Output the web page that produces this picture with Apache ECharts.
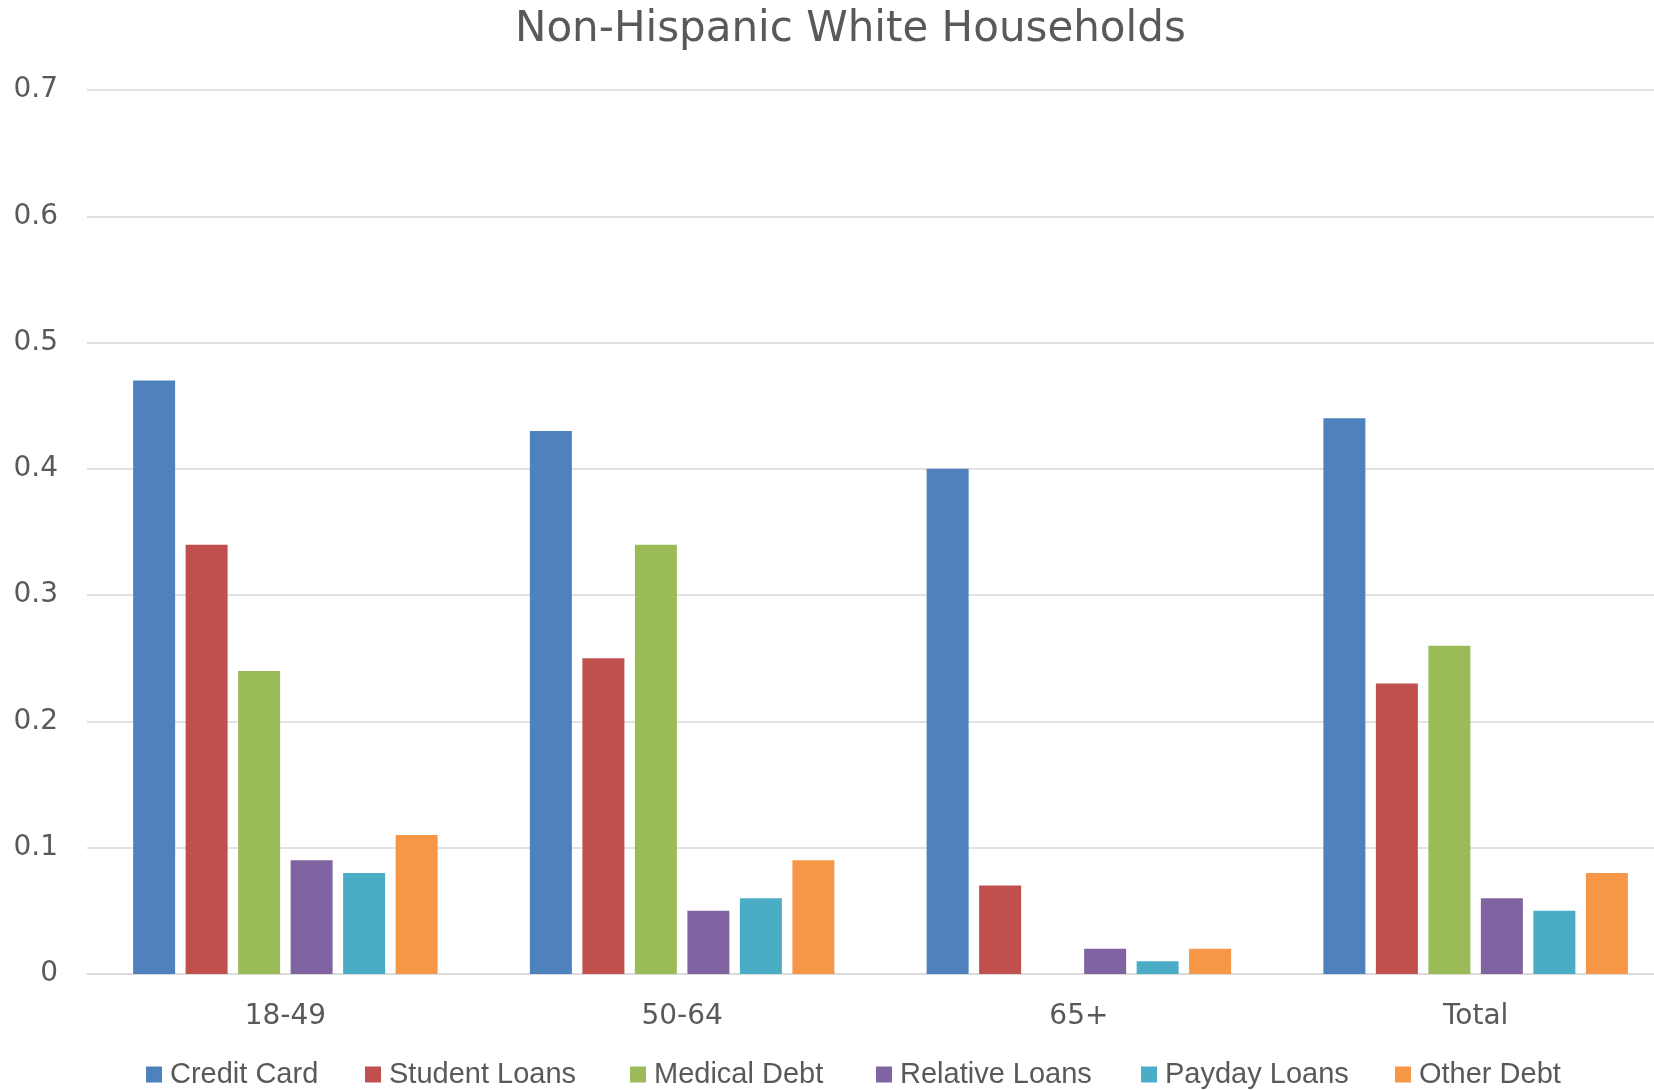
<!DOCTYPE html>
<html>
<head>
<meta charset="utf-8">
<script src="https://cdn.jsdelivr.net/npm/echarts@6/dist/echarts.min.js"></script>
<style>
html,body{margin:0;padding:0;background:#fff;}
#chart{width:1654px;height:1090px;}
</style>
</head>
<body>
<div id="chart"></div>
<script>
const titleText = 'Non-Hispanic White Households';
const categories = ['18-49', '50-64', '65+', 'Total'];
const seriesNames = ['Credit Card', 'Student Loans', 'Medical Debt', 'Relative Loans', 'Payday Loans', 'Other Debt'];
const creditCard = [0.47, 0.43, 0.40, 0.44];
const studentLoans = [0.34, 0.25, 0.07, 0.23];
const medicalDebt = [0.24, 0.34, 0, 0.26];
const relativeLoans = [0.09, 0.05, 0.02, 0.06];
const paydayLoans = [0.08, 0.06, 0.01, 0.05];
const otherDebt = [0.11, 0.09, 0.02, 0.08];
const yTicks = [0, 0.1, 0.2, 0.3, 0.4, 0.5, 0.6, 0.7];

const seriesValues = [creditCard, studentLoans, medicalDebt, relativeLoans, paydayLoans, otherDebt];
const colors = ['#4F81BD', '#C0504D', '#9BBB59', '#8064A2', '#4BACC6', '#F79646'];
const legendLeft = [146, 365, 630, 876, 1141, 1395];
const textColor = '#595959';

const chart = echarts.init(document.getElementById('chart'), null, {renderer: 'canvas'});
const option = {
  animation: false,
  backgroundColor: '#ffffff',
  color: colors,
  title: {
    text: titleText,
    left: 510,
    top: 4,
    textStyle: {fontFamily: 'DejaVu Sans', fontSize: 42, fontWeight: 'normal', color: textColor}
  },
  legend: seriesNames.map((n, i) => ({
    data: [n],
    left: legendLeft[i],
    top: 1060,
    padding: 0,
    itemWidth: 16,
    itemHeight: 16,
    icon: 'rect',
    textStyle: {fontFamily: 'Liberation Sans', fontSize: 29, color: textColor, padding: [0, 0, 0, 3]}
  })),
  grid: {left: 87, width: 1587, top: 90, bottom: 116, containLabel: false, outerBoundsMode: 'none'},
  xAxis: {
    type: 'category',
    data: categories,
    axisTick: {show: false},
    axisLine: {show: true, lineStyle: {color: '#D9D9D9', width: 1.5}},
    axisLabel: {fontFamily: 'DejaVu Sans', fontSize: 28, color: textColor, margin: 29}
  },
  yAxis: {
    type: 'value',
    min: yTicks[0],
    max: yTicks[yTicks.length - 1],
    interval: 0.1,
    axisLine: {show: false},
    axisTick: {show: false},
    splitLine: {lineStyle: {color: '#D9D9D9', width: 1.5}},
    axisLabel: {
      fontFamily: 'DejaVu Sans', fontSize: 28, color: textColor, margin: 29,
      formatter: v => String(Math.round(v * 10) / 10)
    }
  },
  series: seriesNames.map((n, i) => ({
    name: n,
    type: 'bar',
    data: seriesValues[i],
    barWidth: 42,
    barGap: '25%',
    itemStyle: {color: colors[i]}
  }))
};
chart.setOption(option);
</script>
</body>
</html>
